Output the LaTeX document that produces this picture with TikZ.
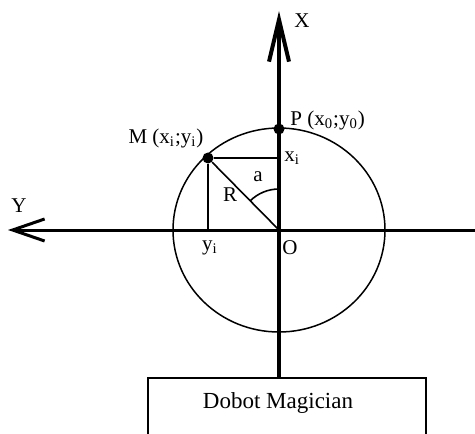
\documentclass[tikz,border=0pt]{standalone}
\usepackage{fontspec}
\setmainfont{Liberation Serif}
\usetikzlibrary{arrows.meta}
\begin{document}
\begin{tikzpicture}[x=0.5pt,y=-0.5pt,
  thinline/.style={line width=0.8pt},
  lbl/.style={font=\fontsize{10.5}{12}\selectfont, inner sep=0pt},
  dot/.style={circle, fill=black, inner sep=0pt, minimum size=5.5pt}]
\useasboundingbox (0,0) rectangle (475,433);
\clip (0,0) rectangle (475,433);
\coordinate (O) at (279,230);
\coordinate (Xtip) at (279,11);
\coordinate (Ytip) at (8,230);
\coordinate (Yend) at (480,230);
\coordinate (boxtop) at (279,377);
% box
\node[draw, line width=1pt, minimum width=139pt, minimum height=40pt, anchor=north west, inner sep=0pt] (box) at (147,377) {};
\node[font=\fontsize{11.5}{13}\selectfont, inner sep=0pt] (boxtext) at (278,403) {Dobot Magician};
% circle
\draw[line width=0.75pt] (O) ellipse [x radius=106, y radius=102];
% axes
\draw[line width=1.5pt, -{Straight Barb[length=16pt, width=11pt]}] (Yend) -- (Ytip);
\draw[line width=2pt, -{Straight Barb[length=21pt, width=10pt]}] (box.north -| O) -- (Xtip);
% points
\node[dot] (P) at (279,129) {};
\node[dot] (M) at (208,158) {};
\draw[thinline] (M) -- (M -| O);
\draw[thinline] (M) -- (M |- O);
\draw[thinline] (M) -- (O);
\draw[thinline] (O) ++(0,-41) arc[start angle=270, end angle=225, radius=41];
% labels
\node[lbl, anchor=west] (Plbl) at (290,120) {P (x\textsubscript{0};y\textsubscript{0})};
\node[lbl] (Mlbl) at (166,138) {M (x\textsubscript{i};y\textsubscript{i})};
\node[lbl, anchor=west] (xi) at (284,158) {x\textsubscript{i}};
\node[lbl] (yi) at (210,248) {y\textsubscript{i}};
\node[lbl] (Olbl) at (290,248) {O};
\node[lbl] (Rlbl) at (230,195) {R};
\node[lbl] (albl) at (258,177) {a};
\node[lbl] (Xlbl) at (302,21) {X};
\node[lbl] (Ylbl) at (19,206) {Y};
\end{tikzpicture}
\end{document}
